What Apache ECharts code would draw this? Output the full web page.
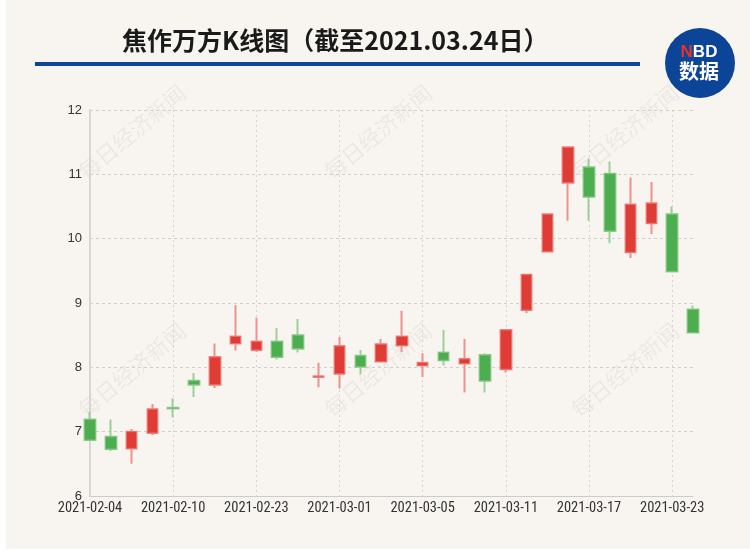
<!DOCTYPE html>
<html>
<head>
<meta charset="utf-8">
<script src="https://cdn.jsdelivr.net/npm/echarts@6/dist/echarts.min.js"></script>
<style>
  html, body { margin: 0; padding: 0; background: #ffffff; }
  #bg { position: absolute; left: 6px; top: 0; width: 744px; height: 549px; background: #f8f5f0; }
  #klineChart { position: absolute; left: 0; top: 0; width: 750px; height: 550px; }
</style>
</head>
<body>
<div id="bg"></div>
<div id="klineChart"></div>
<script>
// 交易日
var dates = ['2021-02-04','2021-02-05','2021-02-08','2021-02-09','2021-02-10','2021-02-18','2021-02-19','2021-02-22','2021-02-23','2021-02-24',
  '2021-02-25','2021-02-26','2021-03-01','2021-03-02','2021-03-03','2021-03-04','2021-03-05','2021-03-08','2021-03-09','2021-03-10',
  '2021-03-11','2021-03-12','2021-03-15','2021-03-16','2021-03-17','2021-03-18','2021-03-19','2021-03-22','2021-03-23','2021-03-24']
var openPrice  = [7.19,6.92,6.74,6.98,7.37,7.79,7.73,8.37,8.27,8.40,8.50,7.85,7.90,8.18,8.09,8.34,8.03,8.23,8.06,8.19,7.97,8.89,9.80,10.87,11.11,11.01,9.79,10.24,10.38,8.90]
var closePrice = [6.87,6.73,7.00,7.35,7.36,7.73,8.16,8.48,8.40,8.16,8.29,7.86,8.33,8.01,8.36,8.48,8.07,8.11,8.13,7.79,8.58,9.44,10.38,11.42,10.65,10.12,10.53,10.55,9.49,8.54]
var lowPrice   = [6.86,6.70,6.50,6.95,7.22,7.54,7.68,8.26,8.24,8.12,8.23,7.69,7.67,7.89,8.07,8.24,7.85,8.03,7.61,7.61,7.92,8.84,9.78,10.28,10.28,9.93,9.70,10.07,9.49,8.54]
var highPrice  = [7.31,7.19,7.04,7.43,7.52,7.91,8.37,8.97,8.77,8.61,8.75,8.07,8.47,8.27,8.44,8.88,8.22,8.58,8.44,8.22,8.58,9.44,10.38,11.42,11.25,11.20,10.95,10.88,10.50,8.96]

var upColor = '#e03c36'
var downColor = '#4cae4f'

// 影线（浅色）和实体分两层画
var wickData = []
var bodyData = []
for (let i = 0; i < dates.length; i++) {
  wickData.push([openPrice[i], closePrice[i], lowPrice[i], highPrice[i]])
  bodyData.push([openPrice[i], closePrice[i], Math.min(openPrice[i], closePrice[i]), Math.max(openPrice[i], closePrice[i])])
}

// 水印
var marks = []
var markX = [132, 378, 625]
var markY = [132, 370]
for (let r = 0; r < markY.length; r++) {
  for (let c = 0; c < markX.length; c++) {
    marks.push({
      type: 'text',
      x: markX[c], y: markY[r],
      rotation: Math.PI * 40 / 180,
      z: 0,
      style: {
        text: '每日经济新闻',
        font: '22px "Noto Sans CJK SC"',
        fill: 'rgba(0,0,0,0.05)',
        align: 'center',
        verticalAlign: 'middle'
      }
    })
  }
}

var myChart = echarts.init(document.getElementById('klineChart'))
myChart.setOption({
  animation: false,
  backgroundColor: 'transparent',
  title: {
    text: '焦作万方K线图（截至2021.03.24日）',
    left: 117,
    top: 23,
    textStyle: {
      color: '#1a1a1a',
      fontSize: 25,
      fontWeight: 'bold',
      fontFamily: '"Noto Sans CJK SC"'
    }
  },
  graphic: marks.concat([
    {
      type: 'rect',
      shape: { x: 35, y: 62, width: 605, height: 4 },
      style: { fill: '#0e4595' }
    },
    {
      type: 'circle',
      shape: { cx: 700, cy: 63, r: 35 },
      style: { fill: '#0c4597' }
    },
    {
      type: 'text',
      x: 699, y: 52,
      style: {
        text: '{n|N}{b|BD}',
        align: 'center',
        verticalAlign: 'middle',
        rich: {
          n: { fill: '#e8322b', font: 'bold 17px "Liberation Sans"' },
          b: { fill: '#ffffff', font: 'bold 17px "Liberation Sans"' }
        }
      }
    },
    {
      type: 'text',
      x: 699, y: 71,
      style: {
        text: '数据',
        align: 'center',
        verticalAlign: 'middle',
        fill: '#ffffff',
        font: 'bold 20px "Noto Sans CJK SC"'
      }
    }
  ]),
  grid: {
    left: 90,
    right: 57,
    top: 110,
    bottom: 54
  },
  xAxis: {
    type: 'category',
    boundaryGap: false,
    data: dates,
    axisLine: { show: true, lineStyle: { color: '#cccccc' } },
    axisTick: { show: false },
    axisLabel: {
      interval: 3,
      color: '#333333',
      fontSize: 14.5,
      margin: 5,
      fontFamily: '"Roboto Condensed", "DejaVu Sans Condensed", sans-serif'
    },
    splitLine: {
      show: true,
      interval: 3,
      lineStyle: { color: '#d4d4d4', type: [2, 3] }
    }
  },
  yAxis: {
    type: 'value',
    min: 6,
    max: 12,
    interval: 1,
    axisLine: { show: true, lineStyle: { color: '#d6d6d6', width: 2 } },
    axisTick: { show: false },
    axisLabel: {
      color: '#333333',
      fontSize: 13,
      margin: 8,
      fontFamily: '"Liberation Sans", sans-serif'
    },
    splitLine: {
      show: true,
      lineStyle: { color: '#cfcfcf', type: [3, 3] }
    }
  },
  series: [
    {
      type: 'candlestick',
      data: wickData,
      barWidth: 11,
      itemStyle: {
        color: '#ee928e',
        color0: '#9bd09a',
        borderColor: '#ee928e',
        borderColor0: '#9bd09a',
        borderWidth: 2
      }
    },
    {
      type: 'candlestick',
      data: bodyData,
      barWidth: 11,
      itemStyle: {
        color: upColor,
        color0: downColor,
        borderColor: '#ea6f6a',
        borderColor0: '#7cc37c',
        borderWidth: 1
      }
    }
  ]
})
</script>
</body>
</html>
